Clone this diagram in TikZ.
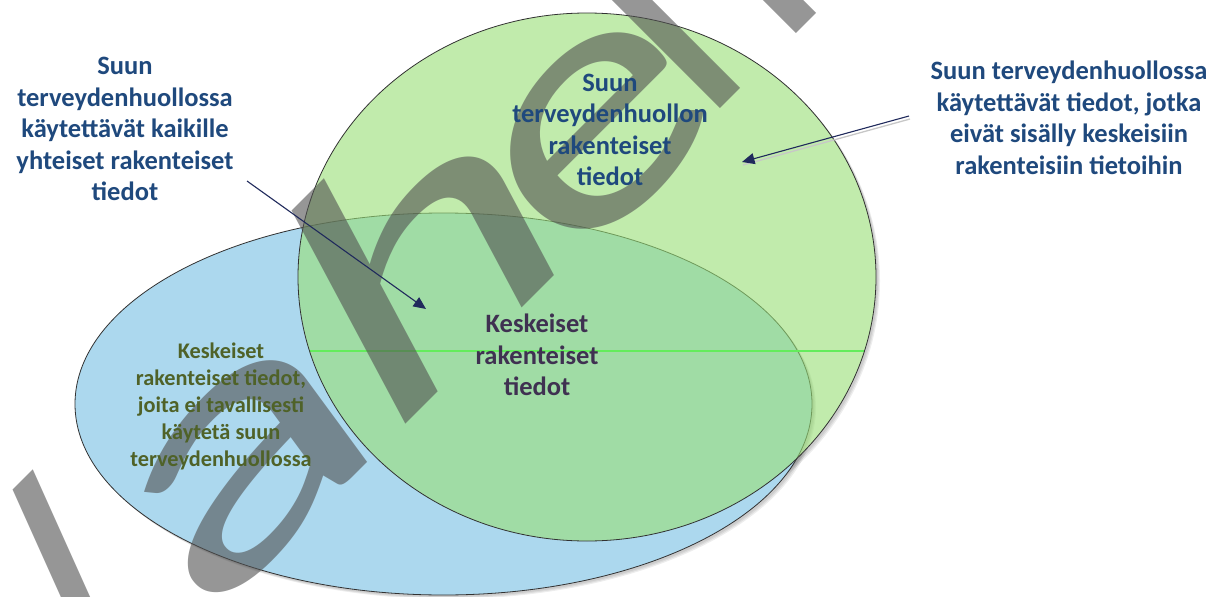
\documentclass[tikz,border=0pt]{standalone}
\usepackage{fontspec}
\setmainfont{Carlito}
\newfontfamily\wmfont{Carlito}
\usetikzlibrary{arrows.meta}

\definecolor{txtblue}{RGB}{31,73,125}
\definecolor{txtolive}{RGB}{79,98,40}
\definecolor{txtpurple}{RGB}{63,49,81}
\definecolor{arrownavy}{RGB}{32,42,92}
\definecolor{blueset}{RGB}{172,216,238}
\definecolor{greenset}{RGB}{152,223,117}
\definecolor{ringline}{RGB}{50,50,50}
\definecolor{wmgray}{RGB}{80,80,80}
\definecolor{seam}{RGB}{100,236,92}

\tikzset{
  setlabel/.style={font=\bfseries\fontsize{26.5}{31.5}\selectfont, align=center, inner sep=0pt},
  smallsetlabel/.style={font=\bfseries\fontsize{22.3}{27}\selectfont, align=center, inner sep=0pt},
  pointer/.style={draw=arrownavy, line width=1.1pt, -{Triangle[length=12.5pt,width=11pt]}},
  pointershadow/.style={draw=black!22, line width=1.3pt},
  softshadow/.style={fill=black, fill opacity=0.07},
  wmtext/.style={font=\wmfont\fontsize{333}{360}\selectfont, text=wmgray, text opacity=0.6,
                 inner sep=0pt, anchor=base west, transform shape},
}

% one warped watermark glyph: origin x, origin y, stretch, lean, name, glyph
\newcommand\wmglyph[6]{%
  \begin{scope}[shift={(#1,#2)}, rotate=45, xscale=#3, xslant=#4]
    \node[wmtext] (#5) at (0,0) {#6};
  \end{scope}}

\begin{document}
\begin{tikzpicture}[x=1pt,y=-1pt]
\useasboundingbox (0,0) rectangle (1213,597);
\fill[white] (0,0) rectangle (1213,597);

\begin{scope}
  \clip (0,0) rectangle (1213,597);

  % soft shadows below the two sets
  \foreach \d in {2,3,4} {
    \fill[softshadow] (443.5+\d,404+\d) ellipse [x radius=368.5, y radius=191];
  }
  \begin{scope}[even odd rule]
    \clip (-10,-10) rectangle (1223,607) (587,277) ellipse [x radius=289, y radius=264];
    \foreach \d in {2,3,4} {
      \fill[softshadow] (587+\d,277+\d) ellipse [x radius=289, y radius=264];
    }
  \end{scope}

  % the set of core structured data
  \filldraw[fill=blueset, draw=ringline, line width=0.8pt] (443.5,404) ellipse [x radius=368.5, y radius=191];

  % the set of oral health care data, translucent over the core set
  \fill[greenset, fill opacity=0.6] (587,277) ellipse [x radius=289, y radius=264];
  \begin{scope}
    \clip (587,277) ellipse [x radius=289, y radius=264];
    \draw[seam, line width=1.2pt] (290,351) -- (880,351);
  \end{scope}
  \draw[ringline, line width=0.8pt] (587,277) ellipse [x radius=289, y radius=264];

  % diagonal watermark, one glyph at a time
  \wmglyph{97.6}{732.7}{1.0}{0.38}{wm1}{l}
  \wmglyph{200}{630}{1.7}{0.09}{wm2}{a}
  \wmglyph{379}{451}{1.6}{0.19}{wm3}{h}
  \wmglyph{568}{278}{1.4}{0.07}{wm4}{e}
  \wmglyph{703.7}{126}{1.0}{0}{wm5}{l}
  \wmglyph{779}{50.6}{1.0}{0}{wm6}{m}
\end{scope}

% labels
\node[setlabel, text=txtblue] (leftlbl) at (125,129)
  {Suun\\terveydenhuollossa\\käytettävät kaikille\\yhteiset rakenteiset\\tiedot};
\node[setlabel, text=txtblue] (rightlbl) at (1069,118)
  {Suun terveydenhuollossa\\käytettävät tiedot, jotka\\eivät sisälly keskeisiin\\rakenteisiin tietoihin};
\node[setlabel, text=txtblue] (greenlbl) at (610,130)
  {Suun\\terveydenhuollon\\rakenteiset\\tiedot};
\node[setlabel, text=txtpurple] (corelbl) at (537,355)
  {Keskeiset\\rakenteiset\\tiedot};
\node[smallsetlabel, text=txtolive] (bluelbl) at (221,406)
  {Keskeiset\\rakenteiset tiedot,\\joita ei tavallisesti\\käytetä suun\\terveydenhuollossa};

% pointers
\coordinate (leftfrom) at (247,181);
\coordinate (lefttip) at (426,309);
\coordinate (rightfrom) at (909,116);
\coordinate (righttip) at (742,162);

\draw[pointershadow] ([shift={(1,3)}]rightfrom) -- ([shift={(1,3)}]righttip);
\draw[pointer] (leftfrom) -- (lefttip);
\draw[pointer] (rightfrom) -- (righttip);
\end{tikzpicture}
\end{document}
